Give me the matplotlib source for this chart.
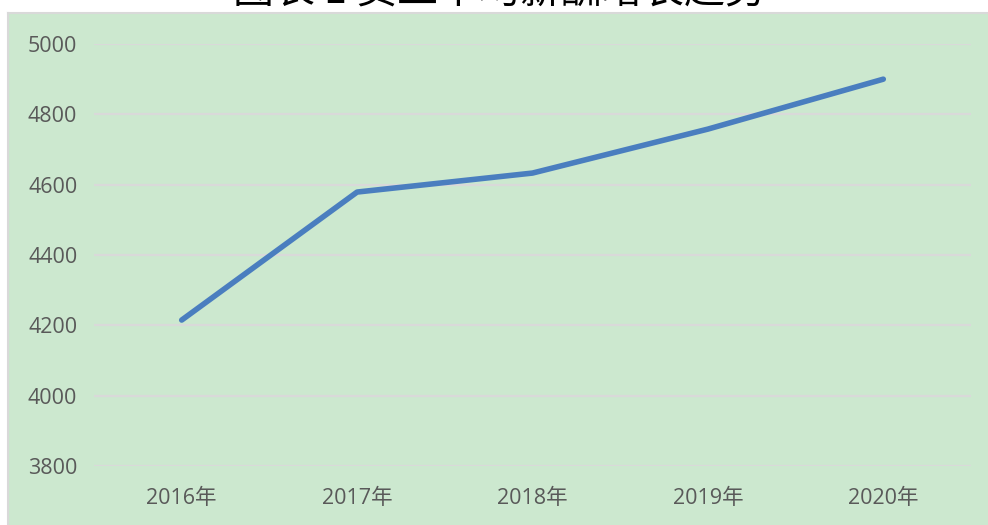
import matplotlib
matplotlib.use("Agg")
import matplotlib.pyplot as plt
from matplotlib.patches import Rectangle

years = ["2016年", "2017年", "2018年", "2019年", "2020年"]
salary = [4215, 4579, 4633, 4758, 4900]
yticks = [3800, 4000, 4200, 4400, 4600, 4800, 5000]
title = "图表 1 员工平均薪酬增长趋势"

W, H = 988, 525
fig = plt.figure(figsize=(W / 100, H / 100), dpi=100)
fig.patch.set_facecolor("white")

green = "#cce8cf"
fig.patches.append(Rectangle((8 / W, 0), 1 - 8 / W, 1 - 13 / H, transform=fig.transFigure,
                             facecolor=green, edgecolor="none", zorder=-5))
fig.add_artist(plt.Line2D([8 / W, 1], [1 - 13 / H, 1 - 13 / H], transform=fig.transFigure,
                          color="#d9d9d9", lw=1.5, zorder=-4))
fig.add_artist(plt.Line2D([7.5 / W, 7.5 / W], [0, 1 - 13 / H], transform=fig.transFigure,
                          color="#d9d9d9", lw=1.5, zorder=-4))

fig.text(0.506, 1 - 3 / H, title, ha="center", va="baseline", fontsize=29.5,
         family=["Noto Sans CJK SC", "DejaVu Sans"], color="black", fontweight="medium")

ax = fig.add_axes([94 / W, 1 - 466 / H, (971 - 94) / W, (466 - 44) / H])
ax.set_zorder(2)
ax.set_facecolor("none")
x = list(range(len(years)))
ax.plot(x, salary, color="#4a7ebf", lw=4, solid_capstyle="round", solid_joinstyle="round", zorder=3)
ax.set_xlim(-0.5, len(years) - 0.5)
ax.set_ylim(3800, 5000)
ax.set_yticks(yticks)
ax.set_yticklabels([str(v) for v in yticks])
ax.set_xticks(x)
ax.set_xticklabels(years)
ax.grid(axis="y", color="#d9d9d9", lw=1.6)
ax.set_axisbelow(True)
for s in ax.spines.values():
    s.set_visible(False)
ax.tick_params(axis="both", length=0, colors="#595959", labelsize=15.5)
ax.tick_params(axis="y", pad=12)
ax.tick_params(axis="x", pad=16)
for lab in ax.get_xticklabels() + ax.get_yticklabels():
    lab.set_family(["Open Sans", "Noto Sans CJK SC"])

fig.savefig("out.png", dpi=100)
